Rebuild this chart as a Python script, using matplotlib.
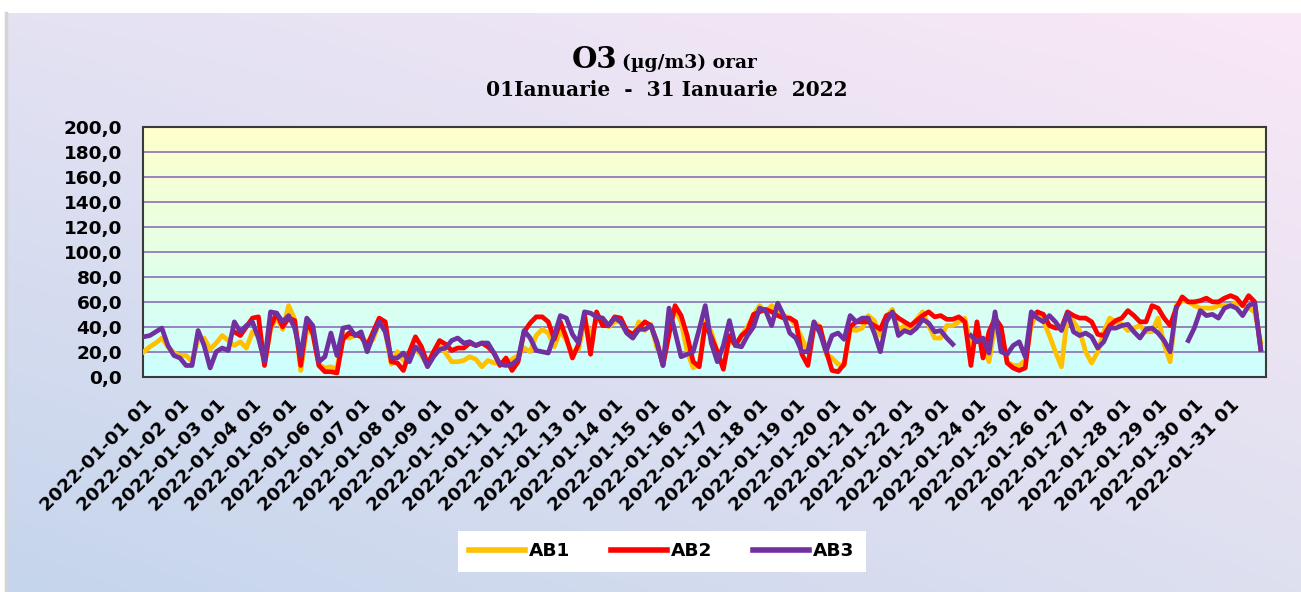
import numpy as np
import pandas as pd
import matplotlib
matplotlib.use('Agg')
import matplotlib.pyplot as plt
from matplotlib.colors import LinearSegmentedColormap

nan = np.nan

# valori O3 (ug/m3), la fiecare 4 ore, de la 2022-01-01 01
ab1 = [20, 24, 27, 31, 24, 19, 17, 17, 12, 30, 31, 22, 27, 33, 29, 25, 28, 23, 36, 33,
       10, 38, 48, 38, 57, 46, 5, 38, 34, 10, 7, 8, 6, 35, 31, 33, 33, 27,
       30, 44, 36, 10, 20, 13, 19, 22, 17, 9, 20, 25, 19, 12, 12, 13, 16, 14, 8, 13,
       11, 11, 10, 14, 17, 23, 20, 33, 38, 35, 24, 37, 29, 19, 22, 44, 34,
       45, 47, 40, 44, 44, 35, 31, 44, 37, 42, 23, 15, 40, 54, 44, 20, 7, 10, 44, 36,
       20, 8, 30, 25, 33, 40, 49, 57, 52, 57, 53, 49, 47, 41, 31, 20, 44,
       40, 18, 15, 10, 9, 38, 37, 39, 49, 45, 33, 48, 54, 37, 41, 39, 46, 52, 41, 31,
       31, 41, 41, 44, 47, 25, 33, 25, 12, 41, 36, 12, 9, 9, 13, 41, 52, 45,
       33, 20, 8, 49, 44, 37, 20, 11, 20, 36, 47, 44, 42, 37, 39, 41, 36, 36, 47, 26,
       12, 57, 61, 60, 57, 55, 55, 55, 57, 57, 57, 60, 57, 55, 52, 28]

ab2 = [nan] * 15 + [
       36, 33, 40, 47, 48, 9, 40, 51, 40, 47, 45, 9, 44, 35, 9, 4, 4, 3, 30, 35, 34, 32, 25,
       36, 47, 44, 12, 11, 5, 20, 32, 24, 10, 20, 29, 26, 21, 23, 23, 27, 25, 27, 24,
       19, 9, 15, 5, 12, 36, 43, 48, 48, 44, 30, 44, 31, 15, 26, 50, 18,
       52, 41, 41, 48, 47, 37, 34, 39, 44, 41, 28, 9, 34, 57, 49, 33, 12, 8, 42, 32,
       20, 6, 33, 25, 33, 37, 50, 52, 54, 52, 49, 47, 47, 44, 18, 9, 40,
       40, 21, 5, 4, 10, 40, 44, 44, 44, 41, 38, 49, 51, 47, 44, 41, 45, 49, 52, 48,
       49, 46, 46, 48, 44, 9, 44, 15, 36, 47, 40, 11, 7, 5, 7, 47, 52, 50,
       41, 39, 39, 52, 49, 47, 47, 44, 34, 33, 41, 45, 47, 53, 49, 44, 44, 57, 55, 47,
       41, 55, 64, 60, 60, 61, 63, 60, 60, 63, 65, 63, 57, 65, 60, 22]

ab3 = [32, 33, 36, 39, 25, 17, 15, 9, 9, 37, 25, 7, 20, 23, 21, 44, 36, 41, 44, 31,
       12, 52, 51, 44, 49, 39, 17, 47, 41, 12, 16, 35, 17, 39, 40, 33, 36, 20,
       33, 44, 36, 15, 15, 19, 12, 24, 19, 8, 16, 22, 23, 29, 31, 27, 28, 25, 27, 27,
       19, 10, 9, 10, 14, 37, 31, 21, 20, 19, 33, 49, 47, 34, 27, 52, 51,
       48, 47, 41, 47, 44, 35, 31, 38, 38, 41, 27, 9, 55, 36, 16, 18, 20, 38, 57, 27,
       12, 25, 45, 25, 24, 33, 40, 55, 53, 41, 59, 49, 35, 31, 20, 20, 44,
       35, 20, 33, 35, 30, 49, 44, 47, 47, 35, 20, 44, 52, 33, 37, 35, 39, 46, 43, 36,
       37, 31, 26, nan, nan, 33, 28, 31, 19, 52, 20, 18, 25, 28, 16, 52, 47, 44,
       49, 44, 37, 51, 36, 33, 35, 32, 23, 28, 39, 39, 41, 42, 36, 31, 38, 39, 35, 29,
       20, 55, nan, 29, 39, 53, 49, 50, 47, 55, 57, 55, 49, 57, 59, 22]

ore = np.arange(len(ab1)) * 4          # ore de la primul punct
zile = pd.date_range('2022-01-01 01:00', periods=31, freq='D').strftime('%Y-%m-%d %H')
y_ticks = np.arange(0, 201, 20)

W, H = 1301, 592
fig = plt.figure(figsize=(W / 100, H / 100), dpi=100)

# fundal degrade
bg = fig.add_axes([0, 0, 1, 1], zorder=-5)
bg.set_xlim(0, 1)
bg.set_ylim(0, 1)
bg.axis('off')
u = np.linspace(0, 1, 300)[None, :]
v = np.linspace(0, 1, 150)[:, None]
c_bl = np.array([197, 213, 236]) / 255
c_tl = np.array([228, 226, 243]) / 255
c_br = np.array([222, 224, 240]) / 255
c_tr = np.array([250, 232, 246]) / 255
img = (((1 - u) * (1 - v))[..., None] * c_bl + ((1 - u) * v)[..., None] * c_tl
       + (u * (1 - v))[..., None] * c_br + (u * v)[..., None] * c_tr)
bg.imshow(img, extent=[6 / W, 1, 0, 1 - 13 / H], origin='lower', aspect='auto')
bg.plot([6 / W, 6 / W], [0, 1 - 13 / H], color='#d4d4d4', lw=2.5)

# zona de desenare
ax = fig.add_axes([143 / W, 1 - 376.7 / H, (1266 - 143) / W, (376.7 - 127.3) / H])
cmap = LinearSegmentedColormap.from_list('zona', ['#ccffff', '#ffffcc'])
ax.imshow(np.linspace(0, 1, 100)[:, None], cmap=cmap, extent=[0, 1, 0, 1],
          transform=ax.transAxes, aspect='auto', origin='lower', zorder=0)

ax.plot(ore, ab1, color='#ffc000', lw=3.4, label='AB1', solid_joinstyle='round', zorder=3)
ax.plot(ore, ab2, color='#ff0000', lw=3.4, label='AB2', solid_joinstyle='round', zorder=4)
ax.plot(ore, ab3, color='#7030a0', lw=3.4, label='AB3', solid_joinstyle='round', zorder=5)

ax.set_xlim(-0.5, 743.5)
ax.set_ylim(0, 200)
ax.set_axisbelow(True)
ax.yaxis.grid(True, color='#8a6fb8', lw=1.2)
ax.set_yticks(y_ticks)
ax.set_yticklabels([f'{t:.1f}'.replace('.', ',') for t in y_ticks],
                   fontsize=13.3, fontweight='bold')
ax.set_xticks(np.arange(31) * 24)
ax.set_xticklabels(zile, rotation=45, ha='right', va='top', rotation_mode='anchor',
                   fontsize=13.3, fontweight='bold')
ax.tick_params(axis='y', length=0, pad=15)
ax.tick_params(axis='x', length=0, pad=14)
for s in ax.spines.values():
    s.set_color('#3a3a3a')
    s.set_linewidth(1.5)

# titlu
fig.text(572 / W, 1 - 68 / H, 'O3', family='DejaVu Serif', fontweight='bold',
         fontsize=21, ha='left', va='baseline')
fig.text(622 / W, 1 - 68 / H, '(µg/m3) orar', family='DejaVu Serif', fontweight='bold',
         fontsize=13.5, ha='left', va='baseline')
fig.text(667 / W, 1 - 96 / H, '01Ianuarie  -  31 Ianuarie  2022', family='DejaVu Serif',
         fontweight='bold', fontsize=14.5, ha='center', va='baseline')

h, l = ax.get_legend_handles_labels()
leg = fig.legend(h, l, loc='center', bbox_to_anchor=(662 / W, 1 - 551.5 / H), ncol=3,
                 frameon=True, facecolor='white', edgecolor='none', fancybox=False,
                 framealpha=1, prop={'weight': 'bold', 'size': 13.3},
                 handlelength=3.0, handletextpad=0.25, columnspacing=2.2,
                 borderpad=0.6)
for ln in leg.get_lines():
    ln.set_linewidth(4)

fig.savefig('out.png', dpi=100)
